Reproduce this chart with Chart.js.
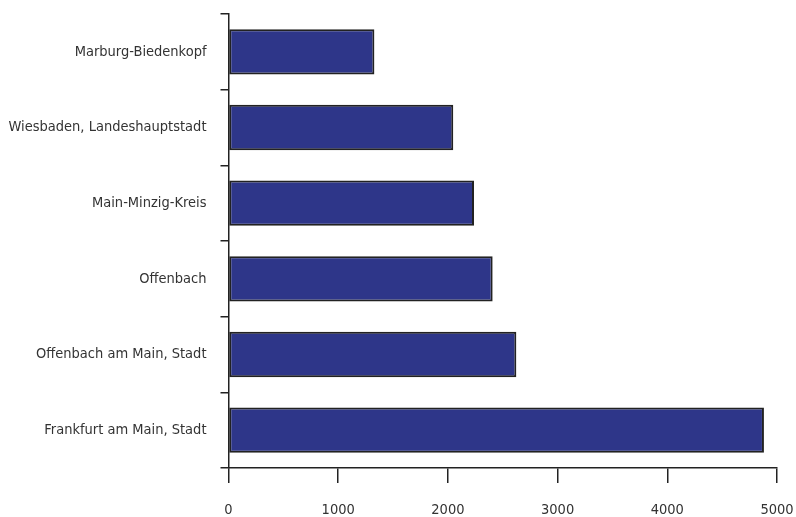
<!DOCTYPE html>
<html>
<head>
<meta charset="utf-8">
<script src="https://cdn.jsdelivr.net/npm/chart.js@4/dist/chart.umd.min.js"></script>
<style>
html,body{margin:0;padding:0;background:#fff;}
#wrap{width:796px;height:517px;position:relative;}
</style>
</head>
<body>
<div id="wrap"><canvas id="c" width="796" height="517"></canvas></div>
<script>
const categories = [
  "Marburg-Biedenkopf",
  "Wiesbaden, Landeshauptstadt",
  "Main-Minzig-Kreis",
  "Offenbach",
  "Offenbach am Main, Stadt",
  "Frankfurt am Main, Stadt"
];
const values = [1330, 2049, 2238, 2408, 2624, 4881];
const xTicks = [0, 1000, 2000, 3000, 4000, 5000];

const FONT = "'Liberation Sans Narrow', 'DejaVu Sans Condensed', 'Arial Narrow', sans-serif";

new Chart(document.getElementById('c'), {
  type: 'bar',
  data: {
    labels: categories,
    datasets: [{
      data: values,
      backgroundColor: '#2e3689',
      borderColor: '#222222',
      borderWidth: 2,
      borderSkipped: false,
      categoryPercentage: 0.6,
      barPercentage: 1.0
    }]
  },
  options: {
    indexAxis: 'y',
    responsive: false,
    animation: false,
    devicePixelRatio: 1,
    layout: { padding: { top: 14, right: 19, left: 0, bottom: 0 } },
    plugins: { legend: { display: false }, tooltip: { enabled: false } },
    scales: {
      x: {
        type: 'linear',
        min: 0, max: 5000,
        afterBuildTicks: (axis) => { axis.ticks = xTicks.map(v => ({ value: v })); },
        afterFit: (axis) => { axis.height = 49; axis.paddingLeft = 0; axis.paddingRight = 0; axis.paddingTop = 0; axis.paddingBottom = 0; },
        grid: { drawOnChartArea: false, drawTicks: true, tickLength: 15, color: '#222', lineWidth: 1.5 },
        border: { display: true, color: '#222', width: 1.5 },
        ticks: { color: '#333', font: { family: FONT, size: 14.5 }, padding: 19, maxRotation: 0,
                 callback: (v) => String(v) }
      },
      y: {
        type: 'category',
        afterFit: (axis) => { axis.width = 228.5; axis.paddingLeft = 0; axis.paddingRight = 0; axis.paddingTop = 0; axis.paddingBottom = 0; },
        grid: { offset: true, drawOnChartArea: false, drawTicks: true, tickLength: 8, color: '#222', lineWidth: 1.5 },
        border: { display: true, color: '#222', width: 1.5 },
        ticks: { color: '#333', font: { family: FONT, size: 14.5 }, padding: 14 }
      }
    }
  }
});
</script>
</body>
</html>
